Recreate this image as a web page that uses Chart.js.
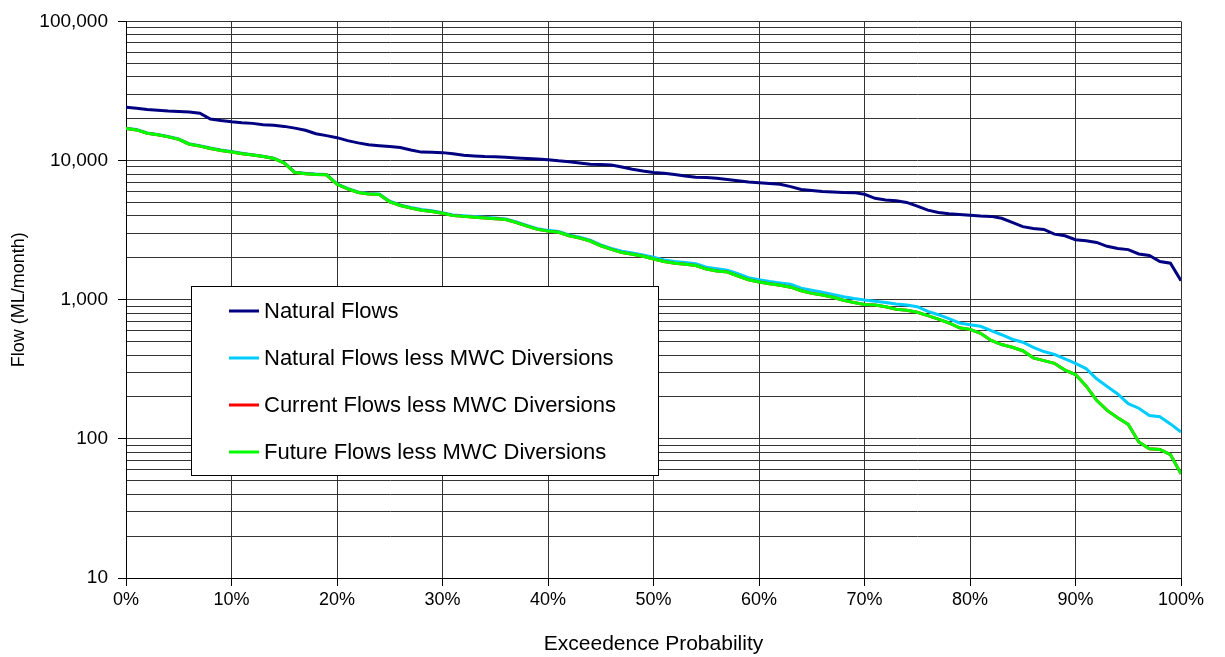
<!DOCTYPE html>
<html>
<head>
<meta charset="utf-8">
<script src="https://cdn.jsdelivr.net/npm/chart.js@4/dist/chart.umd.min.js"></script>
<style>
html,body{margin:0;padding:0;background:#fff;}
#wrap{position:relative;width:1225px;height:657px;}
</style>
</head>
<body>
<div id="wrap"><canvas id="c" width="1225" height="657"></canvas></div>
<script>
const probability = [0,1,2,3,4,5,6,7,8,9,10,11,12,13,14,15,16,17,18,19,20,21,22,23,24,25,26,27,28,29,30,31,32,33,34,35,36,37,38,39,40,41,42,43,44,45,46,47,48,49,50,51,52,53,54,55,56,57,58,59,60,61,62,63,64,65,66,67,68,69,70,71,72,73,74,75,76,77,78,79,80,81,82,83,84,85,86,87,88,89,90,91,92,93,94,95,96,97,98,99,100];

const seriesNames = ["Natural Flows","Natural Flows less MWC Diversions","Current Flows less MWC Diversions","Future Flows less MWC Diversions"];

const naturalFlows = [24200,23800,23300,23000,22700,22500,22300,21900,19900,19400,19000,18700,18500,18100,17900,17600,17100,16500,15600,15100,14600,13900,13400,13000,12800,12600,12400,11900,11500,11450,11400,11200,10900,10800,10700,10650,10550,10450,10350,10250,10150,9950,9800,9600,9400,9350,9300,9000,8650,8400,8200,8100,7950,7750,7600,7550,7450,7300,7150,7000,6930,6850,6750,6500,6200,6100,6000,5950,5900,5880,5720,5350,5200,5150,5000,4700,4400,4230,4150,4100,4050,4000,3970,3850,3600,3350,3250,3200,2960,2880,2700,2650,2580,2420,2330,2290,2130,2080,1880,1830,1370];

const naturalLessMWC = [17100,16700,15800,15400,14900,14300,13200,12800,12300,11900,11600,11300,11000,10750,10400,9650,8250,8100,8000,7950,6800,6300,5950,5800,5750,5100,4800,4600,4450,4350,4220,4060,4010,3960,3910,3860,3810,3620,3420,3240,3150,3090,2920,2810,2680,2480,2340,2230,2170,2100,2020,1930,1880,1850,1810,1710,1670,1630,1540,1440,1390,1350,1320,1290,1210,1170,1130,1090,1050,1020,995,975,955,930,915,890,824,780,730,680,660,644,600,560,520,495,455,424,405,375,349,320,270,238,210,179,166,147,144,128,112];

const currentLessMWC = [17000,16600,15700,15300,14800,14200,13100,12700,12200,11800,11500,11200,10950,10700,10350,9600,8200,8050,7950,7900,6750,6250,5900,5750,5700,5050,4750,4550,4400,4300,4180,4020,3970,3920,3870,3820,3770,3580,3380,3200,3110,3050,2880,2770,2640,2440,2300,2180,2120,2050,1960,1880,1830,1800,1760,1660,1610,1580,1480,1390,1340,1300,1270,1230,1160,1110,1080,1040,990,955,925,915,890,855,840,812,768,725,680,628,612,574,510,476,455,430,382,365,349,312,290,240,189,160,142,127,95,85,84,77,56];

const futureLessMWC = [17000,16600,15700,15300,14800,14200,13100,12700,12200,11800,11500,11200,10950,10700,10350,9600,8200,8050,7950,7900,6750,6250,5900,5750,5700,5050,4750,4550,4400,4300,4180,4020,3970,3920,3870,3820,3770,3580,3380,3200,3110,3050,2880,2770,2640,2440,2300,2180,2120,2050,1960,1880,1830,1800,1760,1660,1610,1580,1480,1390,1340,1300,1270,1230,1160,1110,1080,1040,990,955,925,915,890,855,840,812,768,725,680,628,612,574,510,476,455,430,382,365,349,312,290,240,189,160,142,127,95,85,84,77,56];

const xTickValues = [0,10,20,30,40,50,60,70,80,90,100];
const yMajorTicks = [10,100,1000,10000,100000];

const colors = ["#000080","#00CCFF","#FF0000","#00FF00"];
const seriesValues = [naturalFlows, naturalLessMWC, currentLessMWC, futureLessMWC];
const drawOrder = [3,2,1,0];

const FONT = "'Liberation Sans', Arial, sans-serif";

const datasets = seriesNames.map((name, i) => ({
  label: name,
  data: probability.map((p, j) => ({x: p, y: seriesValues[i][j]})),
  borderColor: colors[i],
  backgroundColor: colors[i],
  borderWidth: 3,
  pointRadius: 0,
  tension: 0,
  fill: false,
  order: drawOrder[i]
}));

const legendBox = {
  id: 'legendBox',
  afterDraw(chart) {
    const ctx = chart.ctx;
    const x0 = 191, y0 = 286, w = 467, h = 189;
    ctx.save();
    ctx.fillStyle = '#fff';
    ctx.fillRect(x0, y0, w, h);
    ctx.strokeStyle = '#000';
    ctx.lineWidth = 1;
    ctx.strokeRect(x0 + 0.5, y0 + 0.5, w, h);
    ctx.font = '22px ' + FONT;
    ctx.textBaseline = 'middle';
    ctx.textAlign = 'left';
    chart.data.datasets.forEach((ds, i) => {
      const yy = 311 + i * 47;
      ctx.strokeStyle = ds.borderColor;
      ctx.lineWidth = 3;
      ctx.beginPath();
      ctx.moveTo(229, yy);
      ctx.lineTo(259, yy);
      ctx.stroke();
      ctx.fillStyle = '#000';
      ctx.fillText(ds.label, 264, yy + 1);
    });
    ctx.restore();
  }
};

new Chart(document.getElementById('c'), {
  type: 'line',
  data: { datasets },
  options: {
    responsive: false,
    animation: false,
    events: [],
    layout: { padding: { top: 20, right: 44, left: 0, bottom: 0 } },
    plugins: { legend: { display: false }, tooltip: { enabled: false } },
    scales: {
      x: {
        type: 'linear',
        min: 0, max: 100,
        afterBuildTicks: (s) => { s.ticks = xTickValues.map(v => ({value: v})); },
        afterFit: (s) => { s.height = 79; },
        ticks: {
          color: '#000',
          font: { family: FONT, size: 18 },
          padding: 3,
          maxRotation: 0,
          autoSkip: false,
          callback: (v) => v + '%'
        },
        grid: { color: '#333', lineWidth: 1, tickLength: 8, tickColor: '#000' },
        border: { display: true, color: '#000', width: 1 },
        title: {
          display: true,
          text: 'Exceedence Probability',
          color: '#000',
          font: { family: FONT, size: 21 },
          padding: { top: 8, bottom: 0 }
        }
      },
      y: {
        type: 'logarithmic',
        min: 10, max: 100000,
        afterBuildTicks: (s) => {
          const t = [];
          for (let d = 0; d < yMajorTicks.length; d++) {
            const base = yMajorTicks[d];
            if (d === yMajorTicks.length - 1) { t.push({value: base, major: true}); break; }
            for (let k = 1; k <= 9; k++) t.push({value: base * k, major: k === 1});
          }
          s.ticks = t;
        },
        afterFit: (s) => { s.width = 126; },
        ticks: {
          color: '#000',
          font: { family: FONT, size: 19 },
          padding: 10,
          autoSkip: false,
          callback: (v) => yMajorTicks.includes(v) ? v.toLocaleString('en-US') : ''
        },
        grid: {
          color: '#333',
          lineWidth: 1,
          tickLength: 8,
          tickColor: (c) => (c.tick && yMajorTicks.includes(c.tick.value)) ? '#000' : 'rgba(0,0,0,0)'
        },
        border: { display: true, color: '#000', width: 1 },
        title: {
          display: true,
          text: 'Flow (ML/month)',
          color: '#000',
          font: { family: FONT, size: 18 },
          padding: { top: 8, bottom: 0 }
        }
      }
    }
  },
  plugins: [legendBox]
});
</script>
</body>
</html>
